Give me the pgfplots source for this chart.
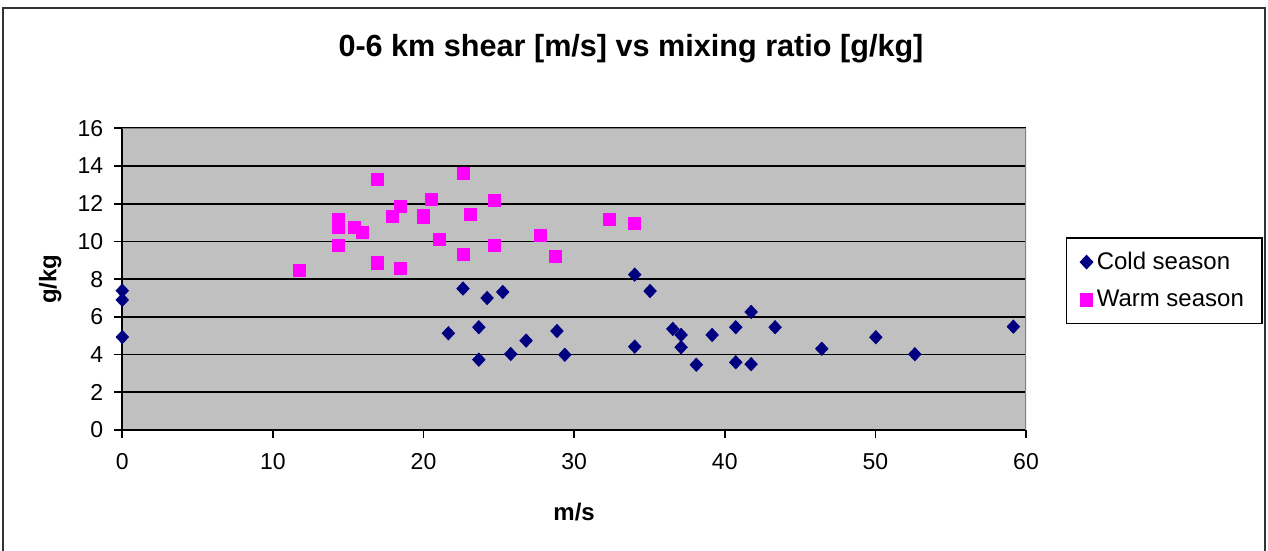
\documentclass[border=0pt]{standalone}
\usepackage{pgfplots}
\pgfplotsset{compat=1.18}
\usepackage{fontspec}
\setmainfont{Liberation Sans}
\definecolor{plotgray}{HTML}{C0C0C0}
\definecolor{navyc}{HTML}{000080}
\definecolor{magc}{HTML}{FF00FF}
\begin{document}
\begin{tikzpicture}[x=1pt,y=1pt]
\useasboundingbox (-61.15,-60.5) rectangle (572.85,215);
\begin{axis}[
  scale only axis, width=451.85pt, height=150.85pt,
  xmin=0, xmax=60, ymin=0, ymax=16,
  xtick={0,10,...,60}, ytick={0,2,...,16},
  axis background/.style={fill=plotgray},
  axis x line*=bottom, axis y line*=left,
  axis line style={black, line width=0.8pt, -},
  ymajorgrids, major grid style={black, line width=0.8pt},
  tick align=outside, major tick length=4pt,
  tick style={black, line width=0.8pt},
  ticklabel style={font=\fontsize{11.5}{13}\selectfont},
  xticklabel style={yshift=-4pt},
  yticklabel style={xshift=-2pt},
  /pgf/number format/assume math mode=true,
  xlabel={m/s}, ylabel={g/kg},
  label style={font=\bfseries\fontsize{12}{14}\selectfont},
  xlabel style={at={(axis description cs:0.5,0)}, anchor=center, yshift=-41pt},
  ylabel style={at={(axis description cs:0,0.5)}, anchor=center, yshift=36pt},
  legend style={at={(axis description cs:1.044,0.6387)}, anchor=north west,
    draw=black, fill=white, font=\fontsize{12}{14}\selectfont,
    row sep=5pt, inner xsep=7pt, inner ysep=5pt, line width=0.6pt},
  legend cell align=left,
]
\addplot[only marks, mark=diamond*, mark size=3.3pt, color=navyc, mark options={xscale=1.25}] coordinates {
(0,7.39) (0,6.90) (0,4.93) (21.65,5.13) (22.62,7.50) (23.67,5.45) (23.67,3.73)
(24.22,7.00) (25.26,7.32) (25.79,4.03) (26.81,4.74) (28.86,5.25) (29.38,3.99)
(34.02,8.24) (35.04,7.37) (34.02,4.42) (36.55,5.36) (37.10,5.04) (37.10,4.39)
(38.11,3.46) (39.16,5.04) (40.73,5.45) (40.73,3.59) (41.75,6.26) (41.75,3.49)
(43.34,5.45) (46.44,4.31) (50.03,4.92) (52.62,4.02) (59.16,5.48)
};
\addlegendentry{Cold season}
\addplot[only marks, mark=square*, mark size=3pt, color=magc] coordinates {
(11.75,8.47) (14.32,11.15) (14.32,10.95) (14.32,10.75) (14.32,9.80) (15.39,10.75)
(15.94,10.47) (16.93,13.30) (16.93,8.90) (16.93,8.82) (17.93,11.35) (18.46,11.88)
(18.46,8.58) (19.99,11.40) (19.99,11.30) (20.54,12.25) (21.05,10.13) (22.62,13.62)
(22.62,9.32) (23.13,11.44) (24.68,12.17) (24.68,9.80) (27.76,10.33) (28.78,9.19)
(32.36,11.18) (34.00,10.93)
};
\addlegendentry{Warm season}
\draw[gray, line width=0.8pt] (axis cs:0,16) -- (axis cs:60,16) -- (axis cs:60,0);
\end{axis}
\node[font=\bfseries\fontsize{15.3}{18}\selectfont] at (254.35,190.5) {0-6 km shear [m/s] vs mixing ratio [g/kg]};
\draw[line width=1pt, color=black!80] (-59.65,-70) -- (-59.65,211) -- (571.35,211) -- (571.35,-70);
\end{tikzpicture}
\end{document}
